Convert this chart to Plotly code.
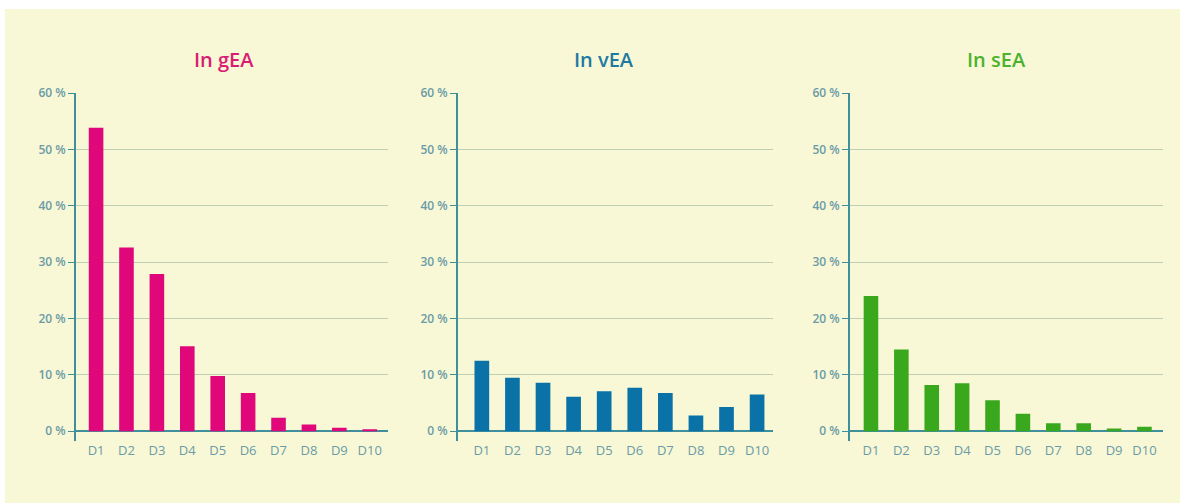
import plotly.graph_objects as go

categories = ["D1", "D2", "D3", "D4", "D5", "D6", "D7", "D8", "D9", "D10"]
gEA = [53.9, 32.6, 27.9, 15.1, 9.8, 6.8, 2.4, 1.2, 0.6, 0.3]
vEA = [12.5, 9.5, 8.6, 6.1, 7.1, 7.7, 6.8, 2.8, 4.3, 6.5]
sEA = [24.0, 14.5, 8.2, 8.5, 5.5, 3.1, 1.4, 1.4, 0.5, 0.8]
titles = ["In gEA", "In vEA", "In sEA"]
tick_vals = [0, 10, 20, 30, 40, 50, 60]
tick_text = ["0 %", "10 %", "20 %", "30 %", "40 %", "50 %", "60 %"]

W, H = 1183, 503


def py(y_target):
    # convert a target pixel row to a paper fraction (compensates observed render offset)
    return 1 - ((y_target - 9) / 0.979) / H


bar_colors = ["#e0077a", "#0a72a6", "#3aa81c"]
title_colors = ["#d91c74", "#1f7aa3", "#4cb22e"]
series = [gEA, vEA, sEA]
x_domains = [(76 / W, 388 / W), (458 / W, 773 / W), (850 / W, 1163 / W)]
x_ranges = [[-0.66, 9.6], [-0.78, 9.52], [-0.69, 9.61]]
title_x = [224, 604, 996]
y_dom = (py(440), py(93))

fig = go.Figure()
axis_line = "#3f8f9c"
tick_col = "#6b9ba6"
grid_col = "#bfcfb4"
font_fam = "Open Sans, Lato, sans-serif"

for i, (vals, col) in enumerate(zip(series, bar_colors)):
    suffix = "" if i == 0 else str(i + 1)
    fig.add_trace(go.Bar(
        x=list(range(len(categories))), y=vals,
        marker=dict(color=col, line=dict(width=0)),
        width=0.48, xaxis="x" + suffix, yaxis="y" + suffix, showlegend=False,
    ))
    fig.layout["xaxis" + suffix] = dict(
        domain=list(x_domains[i]), anchor="y" + suffix, showline=False,
        showgrid=False, zeroline=False, ticks="",
        tickmode="array", tickvals=list(range(len(categories))), ticktext=categories,
        tickfont=dict(family=font_fam, size=13, color=tick_col, weight=500),
        fixedrange=True, range=x_ranges[i],
    )
    fig.layout["yaxis" + suffix] = dict(
        domain=list(y_dom), anchor="x" + suffix, range=[-1.8, 60],
        tickmode="array", tickvals=tick_vals, ticktext=tick_text,
        showline=True, linecolor=axis_line,
        linewidth=2, ticks="outside", ticklen=6, tickcolor=axis_line, tickwidth=1,
        showgrid=True, gridcolor=grid_col, gridwidth=1,
        zeroline=True, zerolinecolor=axis_line, zerolinewidth=2,
        tickfont=dict(family=font_fam, size=12, color=tick_col, weight=600),
        fixedrange=True,
    )
    fig.add_annotation(
        x=title_x[i] / W, y=py(59), xref="paper", yref="paper",
        text=titles[i], showarrow=False, xanchor="center", yanchor="middle",
        font=dict(family=font_fam, size=20, color=title_colors[i], weight=600),
    )

fig.add_shape(type="rect", xref="paper", yref="paper", x0=5 / W, x1=1180 / W,
              y0=0, y1=1, fillcolor="#f8f8d6", line=dict(width=0), layer="below")

fig.update_layout(
    width=W, height=H, margin=dict(l=0, r=0, t=0, b=0),
    paper_bgcolor="white", plot_bgcolor="rgba(0,0,0,0)", bargap=0.5,
)

post = ("document.body.style.margin='0';document.body.style.padding='0';"
        "var gd=document.getElementById('{plot_id}');"
        "gd.style.position='absolute';gd.style.left='0px';gd.style.top='0px';")
fig.write_html("out.html", post_script=post, config={"displayModeBar": False})
